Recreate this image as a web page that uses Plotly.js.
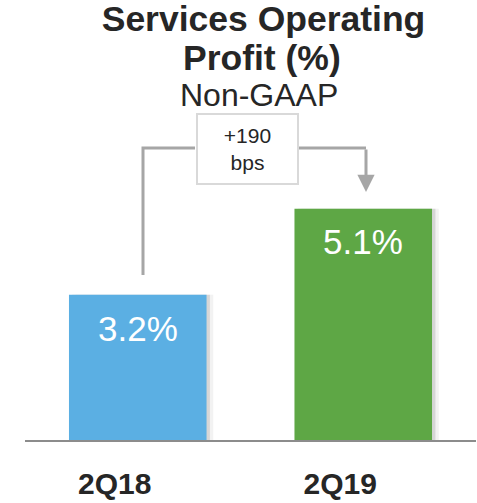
<!DOCTYPE html>
<html>
<head>
<meta charset="utf-8">
<script src="https://cdn.plot.ly/plotly-3.0.1.min.js"></script>
<style>html,body{margin:0;padding:0;background:#fff;}#chart{width:477px;height:503px;}</style>
</head>
<body>
<div id="chart"></div>
<script>
// Data
const categories = ['2Q18', '2Q19'];
const values = [3.2, 5.1];
const valueLabels = ['3.2%', '5.1%'];
const barColors = ['#5BAFE3', '#5EA745'];
const titleLine1 = 'Services Operating';
const titleLine2 = 'Profit (%)';
const subtitle = 'Non-GAAP';
const changeLabel = '+190<br>bps';

const W = 477, H = 503;
const L = 25, R = 1, T = 0, B = 63;
const plotW = W - L - R, plotH = H - T - B;
const px = x => (x - L) / plotW;
const py = y => (T + plotH - y) / plotH;

const FONT = 'Liberation Sans, Arial, sans-serif';
const grey = '#A6A6A6';

function shadowTrace(shift, alpha) {
  return {
    type: 'bar', x: categories, y: values, width: 0.61, offset: -0.305 + shift,
    marker: {color: 'rgba(90,90,90,' + alpha + ')', line: {width: 0}},
    hoverinfo: 'skip', showlegend: false
  };
}
const bars = {
  type: 'bar', x: categories, y: values, width: 0.61,
  marker: {color: barColors, line: {width: 0}},
  hoverinfo: 'skip', showlegend: false
};

const valueAnnotations = categories.map((c, i) => ({
  text: valueLabels[i], x: c, y: values[i], xref: 'x', yref: 'y',
  xanchor: 'center', yanchor: 'middle', yshift: i === 0 ? -34 : -33,
  showarrow: false, font: {family: FONT, size: 35, color: '#ffffff'}
}));

const layout = {
  width: W, height: H,
  margin: {l: L, r: R, t: T, b: B, pad: 0},
  paper_bgcolor: '#ffffff', plot_bgcolor: '#ffffff',
  barmode: 'overlay',
  title: {
    text: '<b>' + titleLine1 + '</b>',
    font: {family: FONT, size: 35.5, color: '#262626'},
    x: 263.5 / W, xanchor: 'center', xref: 'container',
    y: 1 - 18.5 / H, yanchor: 'middle', yref: 'container'
  },
  xaxis: {
    type: 'category', range: [-0.5, 1.5], fixedrange: true,
    showline: true, linecolor: '#8C8C8C', linewidth: 2,
    ticks: '', showgrid: false, zeroline: false,
    tickfont: {family: FONT, size: 30, color: '#262626', weight: 'bold'},
    ticklabelshift: -23, ticklabelstandoff: 16
  },
  yaxis: {
    range: [0, 9.7], visible: false, showgrid: false, zeroline: false, fixedrange: true
  },
  shapes: [
    {type: 'path', xref: 'paper', yref: 'paper',
     path: `M${px(143)},${py(275)} L${px(143)},${py(148)} L${px(195)},${py(148)}`,
     line: {color: grey, width: 3}},
    {type: 'path', xref: 'paper', yref: 'paper',
     path: `M${px(298)},${py(148)} L${px(366)},${py(148)}`,
     line: {color: grey, width: 3}}
  ],
  annotations: [
    {text: '<b>' + titleLine2 + '</b>', xref: 'paper', yref: 'paper',
     x: px(262), y: py(57.5), xanchor: 'center', yanchor: 'middle', showarrow: false,
     font: {family: FONT, size: 35.5, color: '#262626'}},
    {text: subtitle, xref: 'paper', yref: 'paper',
     x: px(259), y: py(95), xanchor: 'center', yanchor: 'middle', showarrow: false,
     font: {family: FONT, size: 32, color: '#262626'}},
    {text: changeLabel, xref: 'paper', yref: 'paper',
     x: px(247), y: py(149), xanchor: 'center', yanchor: 'middle', showarrow: false,
     width: 99, height: 68, bgcolor: '#ffffff',
     bordercolor: '#D9D9D9', borderwidth: 2, borderpad: 0,
     font: {family: FONT, size: 21, color: '#262626'}},
    {text: '', xref: 'paper', yref: 'paper', x: px(366), y: py(192),
     showarrow: true, axref: 'pixel', ayref: 'pixel', ax: 0, ay: -(192 - 148),
     arrowhead: 2, arrowsize: 1.15, arrowwidth: 3, arrowcolor: grey, standoff: 0}
  ].concat(valueAnnotations)
};

Plotly.newPlot('chart', [shadowTrace(0.03, 0.08), shadowTrace(0.015, 0.18), bars], layout,
  {displayModeBar: false, staticPlot: true});
</script>
</body>
</html>
